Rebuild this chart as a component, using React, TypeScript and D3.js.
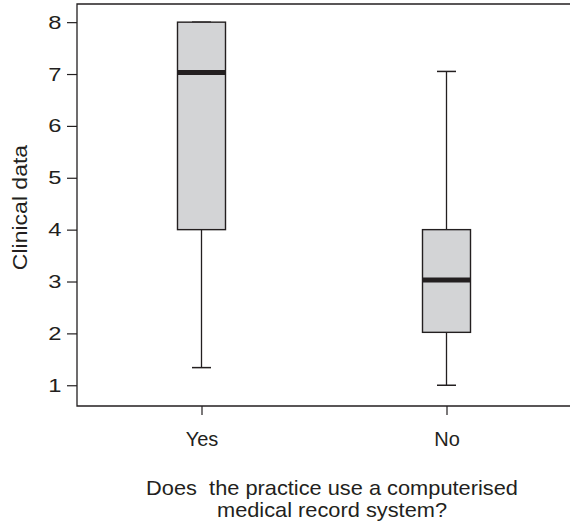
import React, { useEffect, useRef } from 'react';
import * as d3 from 'd3';

// data
const groups = ['Yes', 'No'];
const lowWhisker = [1.34, 1.0];
const q1 = [4.0, 2.02];
const medians = [7.03, 3.03];
const q3 = [8.0, 4.0];
const highWhisker = [8.0, 7.05];
const yTicks = [1, 2, 3, 4, 5, 6, 7, 8];

const W = 570;
const H = 524;
const ink = '#231f20';
const font = '"Liberation Sans", Arial, Helvetica, sans-serif';

export default function App() {
  const svgRef = useRef<SVGSVGElement>(null);

  useEffect(() => {
    const svg = d3.select(svgRef.current);
    svg.selectAll('*').remove();

    const left = 77, top = 4, bottom = 406, right = 572;

    const y = d3.scaleLinear().domain([0.6, 8.35]).range([bottom, top]);
    const x = d3.scalePoint<string>().domain(groups).range([79, 569]).padding(0.5);

    const boxW = 48;
    const capW = 19;

    // frame (top, left, bottom – right edge is cut off)
    svg.append('path')
      .attr('d', `M${right},${top}H${left}V${bottom}H${right}`)
      .attr('fill', 'none')
      .attr('stroke', ink)
      .attr('stroke-width', 1.3);

    // y axis
    const ys = 1.25;
    const yAxis = svg.append('g')
      .attr('transform', `translate(${left},0)`)
      .call(d3.axisLeft(y).tickValues(yTicks).tickSize(10).tickFormat(d3.format('d')));
    yAxis.select('.domain').remove();
    yAxis.selectAll('line').attr('stroke', ink).attr('stroke-width', 1.2);
    yAxis.selectAll('text')
      .attr('x', -15.5 / ys)
      .attr('transform', `scale(${ys},1)`)
      .attr('fill', ink)
      .style('font-family', font)
      .style('font-size', '19px');

    // x axis
    const xAxis = svg.append('g')
      .attr('transform', `translate(0,${bottom})`)
      .call(d3.axisBottom(x).tickSize(9).tickPadding(0));
    xAxis.select('.domain').remove();
    xAxis.selectAll('line').attr('stroke', ink).attr('stroke-width', 1.2);
    xAxis.selectAll('text')
      .attr('y', 40)
      .attr('dy', null)
      .attr('fill', ink)
      .style('font-family', font)
      .style('font-size', '20px');

    const boxes = svg.append('g')
      .selectAll('g')
      .data(groups)
      .join('g');

    // whiskers
    boxes.append('line')
      .attr('x1', (d) => x(d)!)
      .attr('x2', (d) => x(d)!)
      .attr('y1', (_, i) => y(lowWhisker[i]))
      .attr('y2', (_, i) => y(highWhisker[i]))
      .attr('stroke', ink)
      .attr('stroke-width', 1.3);

    boxes.append('line')
      .attr('x1', (d) => x(d)! - capW / 2)
      .attr('x2', (d) => x(d)! + capW / 2)
      .attr('y1', (_, i) => y(lowWhisker[i]))
      .attr('y2', (_, i) => y(lowWhisker[i]))
      .attr('stroke', ink)
      .attr('stroke-width', 1.5);

    boxes.append('line')
      .attr('x1', (d) => x(d)! - capW / 2)
      .attr('x2', (d) => x(d)! + capW / 2)
      .attr('y1', (_, i) => y(highWhisker[i]))
      .attr('y2', (_, i) => y(highWhisker[i]))
      .attr('stroke', ink)
      .attr('stroke-width', 1.5);

    // boxes
    boxes.append('rect')
      .attr('x', (d) => x(d)! - boxW / 2)
      .attr('width', boxW)
      .attr('y', (_, i) => y(q3[i]))
      .attr('height', (_, i) => y(q1[i]) - y(q3[i]))
      .attr('fill', '#d3d4d6')
      .attr('stroke', ink)
      .attr('stroke-width', 1.4);

    // medians
    boxes.append('line')
      .attr('x1', (d) => x(d)! - boxW / 2)
      .attr('x2', (d) => x(d)! + boxW / 2)
      .attr('y1', (_, i) => y(medians[i]))
      .attr('y2', (_, i) => y(medians[i]))
      .attr('stroke', ink)
      .attr('stroke-width', 5);

    // axis titles
    svg.append('text')
      .attr('transform', `translate(27,207.5) rotate(-90) scale(1.15,1)`)
      .attr('text-anchor', 'middle')
      .attr('fill', ink)
      .style('font-family', font)
      .style('font-size', '20px')
      .text('Clinical data');

    const tx = 332, ts = 1.09;
    const title = svg.append('text')
      .attr('transform', `translate(${tx},0) scale(${ts},1)`)
      .attr('text-anchor', 'middle')
      .attr('fill', ink)
      .style('font-family', font)
      .style('font-size', '20px')
      .style('white-space', 'pre');
    title.append('tspan').attr('x', 0).attr('y', 495).text('Does  the practice use a computerised');
    title.append('tspan').attr('x', 0).attr('y', 517).text('medical record system?');
  }, []);

  return (
    <div style={{ position: 'absolute', left: 0, top: 0 }}>
      <svg ref={svgRef} width={W} height={H} style={{ display: 'block', background: '#fff' }} />
    </div>
  );
}
